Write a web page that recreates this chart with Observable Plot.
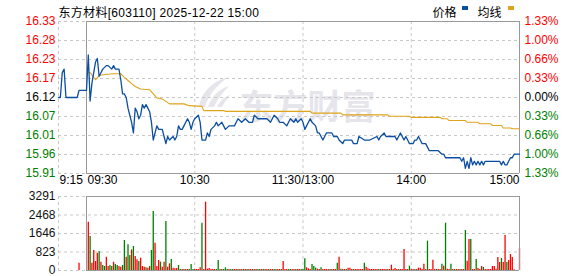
<!DOCTYPE html>
<html><head><meta charset="utf-8">
<script src="https://cdn.jsdelivr.net/npm/d3@7"></script>
<script src="https://cdn.jsdelivr.net/npm/@observablehq/plot@0.6"></script>
<style>
html,body{margin:0;padding:0;background:#fff;}
#chart{width:578px;height:276px;overflow:hidden;}
#chart svg{display:block;}
</style></head><body><div id="chart"></div>
<script>
// ---------- data ----------
const titleText = "东方材料[603110] 2025-12-22 15:00";
const legendNames = ["价格", "均线"];
const prevClose = 16.12;
const pctRange = 1.33;
const priceTickLabels = ["16.33","16.28","16.23","16.17","16.12","16.07","16.01","15.96","15.91"];
const pctTickLabels = ["1.33%","1.00%","0.66%","0.33%","0.00%","0.33%","0.66%","1.00%","1.33%"];
// trading minutes since 09:30 (lunch break collapsed); 9:15 = -15
const timeTicks = [-15, 0, 60, 120, 180, 240];
const timeTickLabels = ["9:15","09:30","10:30","11:30/13:00","14:00","15:00"];
const volTicks = [3291, 2468, 1646, 823, 0];

const pricePoints = [[-15,16.12],[-14,16.12],[-13,16.19],[-12,16.20],[-11,16.12],[-5,16.12],[-4,16.14],[0,16.14],
[1,16.24],[2,16.11],[3,16.16],[4,16.19],[5,16.22],[6,16.23],[7,16.18],[8,16.19],[9,16.20],[11,16.21],[12,16.21],
[14,16.20],[15,16.21],[16,16.20],[18,16.20],[19,16.17],[20,16.13],[21,16.13],[22,16.12],[23,16.09],[24,16.07],
[25,16.05],[26,16.02],[27,16.09],[28,16.08],[29,16.06],[30,16.07],[31,16.10],[32,16.09],[33,16.10],[34,16.09],
[35,16.08],[36,16.05],[37,16.00],[38,16.02],[39,16.04],[40,16.03],[41,16.03],[42,16.03],[43,16.01],[44,15.99],
[45,16.01],[46,16.00],[48,16.01],[49,16.00],[50,16.01],[51,16.04],[52,16.03],[53,16.03],[54,16.04],[55,16.05],
[56,16.06],[57,16.05],[58,16.03],[59,16.05],[60,16.06],[62,16.07],[63,16.05],[64,16.00],[66,16.00],[67,16.02],
[68,16.01],[69,16.03],[71,16.04],[72,16.05],[73,16.04],[75,16.05],[76,16.04],[77,16.03],[79,16.04],[81,16.04],
[82,16.04],[83,16.05],[84,16.06],[86,16.05],[88,16.06],[90,16.05],[92,16.05],[93,16.07],[95,16.06],[100,16.06],
[102,16.05],[103,16.06],[104,16.07],[106,16.06],[107,16.05],[109,16.05],[111,16.04],[112,16.05],[113,16.06],
[115,16.05],[116,16.06],[117,16.05],[119,16.06],[120,16.05],[121,16.03],[122,16.04],[123,16.05],[124,16.06],
[125,16.05],[127,16.04],[128,16.02],[129,16.02],[131,16.00],[132,16.01],[133,16.02],[134,16.02],[136,16.02],
[137,16.01],[139,16.01],[140,16.00],[142,15.99],[143,16.00],[145,16.00],[147,16.00],[148,15.99],[149,15.99],
[150,15.99],[151,16.01],[154,16.00],[157,16.00],[161,16.01],[162,16.00],[163,16.01],[165,16.02],[166,16.01],
[167,16.01],[168,16.01],[171,16.01],[172,16.00],[173,16.01],[174,16.02],[175,16.01],[176,16.00],[177,16.01],
[178,16.00],[179,15.99],[181,15.99],[182,16.00],[183,16.00],[184,16.01],[185,16.00],[186,15.99],[188,15.99],
[189,15.98],[190,15.97],[195,15.97],[197,15.96],[198,15.96],[199,15.95],[201,15.95],[203,15.95],[204,15.95],
[205,15.95],[207,15.95],[208,15.94],[209,15.95],[210,15.92],[211,15.94],[212,15.92],[213,15.95],[214,15.93],
[215,15.94],[216,15.93],[217,15.94],[218,15.93],[219,15.94],[220,15.93],[221,15.94],[222,15.94],[225,15.94],
[228,15.94],[229,15.94],[230,15.93],[231,15.94],[232,15.93],[233,15.93],[234,15.94],[235,15.95],[236,15.95],
[237,15.96],[240,15.96]];

const avgPoints = [[1,16.19],[2,16.19],[5,16.17],[7,16.182],[10,16.185],[15,16.187],[19,16.187],[21,16.177],
[23,16.168],[25,16.159],[27,16.151],[30,16.144],[35,16.142],[37,16.130],[39,16.119],[42,16.116],[44,16.109],
[46,16.102],[54,16.102],[57,16.097],[64,16.095],[65,16.083],[76,16.083],[77,16.081],[124,16.081],[125,16.076],
[141,16.076],[142,16.071],[167,16.071],[168,16.067],[179,16.067],[180,16.064],[196,16.064],[197,16.060],
[200,16.060],[201,16.055],[210,16.055],[211,16.050],[217,16.050],[218,16.046],[224,16.046],[225,16.041],
[230,16.041],[231,16.034],[235,16.034],[236,16.032],[240,16.032]];

// per-minute volume, minute 0..240
const volume = [
0,2149,1512,326,889,400,771,845,371,222,
178,593,178,222,178,371,267,222,178,148,
222,1334,593,1141,667,919,1067,622,474,400,
548,178,148,119,104,178,889,2623,1215,178,
445,371,148,371,2179,148,296,489,104,74,
89,222,44,44,44,44,44,44,267,44,
44,44,44,119,2104,44,3038,59,89,44,
44,44,44,445,44,44,44,119,44,44,
44,44,44,44,44,44,44,44,44,44,
44,44,44,44,44,44,44,44,44,44,
44,44,44,44,44,44,44,44,44,400,
44,44,44,44,44,44,44,44,44,44,
44,519,119,74,44,267,178,104,59,44,
119,44,44,44,44,44,44,44,44,326,
593,59,44,44,44,104,104,44,44,44,
44,44,44,44,326,148,74,44,44,44,
44,44,44,44,44,44,44,44,44,237,
44,89,44,44,44,44,934,44,44,193,
44,44,44,44,104,104,44,282,44,1304,
44,44,459,44,44,44,44,282,193,2104,
59,44,282,44,44,44,44,44,44,44,
1778,415,1378,1378,44,44,489,89,44,178,
133,44,44,44,44,178,178,59,578,356,
534,356,1556,356,445,711,578,30,0,0,
978];
// u = up (red), d = down (green)
const volDir =
"uuduuuudud"+"duuddudduu"+"ddudduduud"+"uuuduudduu"+"uduuduuduu"+
"udduduuddd"+"uuuuduuuuu"+"uudddudddu"+"dduuduudud"+"uuduuddudu"+
"uduudduudu"+"uudduuduud"+"dduuuddduu"+"duuuuduuud"+"uduuduuudu"+
"uuuuduuuuu"+"uuduuuuduu"+"uuuduuuuud"+"uuduuuuuud"+"uuuuduudud"+
"uududuuduu"+"duuduuduuu"+"duuuuuuuuu"+"duuduuuuuu"+"u";
const auctionMinute = -4, auctionVolume = 326, auctionDir = "u";

// ---------- style ----------
const RED = "#ff0000", GREEN = "#008000", BLUE = "#0b4ea2", GOLD = "#e0a31c";
const GRID = "#c8c8c8", FRAME = "#999999";
const FONT = "'Liberation Sans', Arial, 'Noto Sans CJK SC', sans-serif";
const W = 578;
const xScale = {type: "linear", domain: [-15, 0, 240], range: [58, 86, 519]};

const low = prevClose * (1 - pctRange / 100), high = prevClose * (1 + pctRange / 100);
const tickPrice = i => prevClose * (1 + pctRange / 100 * (4 - i) / 4);
const tickColor = i => i < 4 ? RED : i === 4 ? "#000000" : GREEN;
const idx = priceTickLabels.map((d, i) => i);
const inner = idx.filter(i => i > 0 && i < 8);

const priceData = pricePoints.map(([t, v]) => ({t, v}));
const avgData = avgPoints.map(([t, v]) => ({t, v}));
const volData = volume.map((v, i) => ({t: i, v, c: volDir[i] === "u" ? RED : GREEN})).filter(d => d.v > 0);
volData.unshift({t: auctionMinute, v: auctionVolume, c: auctionDir === "u" ? RED : GREEN});

const txt = {fontSize: 12, fontFamily: FONT};

const main = Plot.plot({
  width: W, height: 190,
  marginTop: 21, marginBottom: 17, marginLeft: 58, marginRight: 59,
  x: {...xScale, axis: null},
  y: {domain: [low, high], axis: null},
  color: {type: "identity"},
  style: {background: "transparent"},
  marks: [
    Plot.text(["东方财富"], {frameAnchor: "top-left", dx: 249, dy: 73, textAnchor: "middle",
      fill: "#e5e5eb", fontSize: 34, fontWeight: "bold", fontFamily: "'Noto Sans CJK SC', sans-serif"}),
    Plot.ruleY(inner, {y: i => tickPrice(i), x1: -15, x2: 240, stroke: GRID, strokeDasharray: "3,3"}),
    Plot.ruleY([0, 8], {y: i => tickPrice(i), x1: -15, x2: 0, stroke: GRID, strokeDasharray: "3,3"}),
    Plot.ruleX([-15, 60, 120, 180], {stroke: GRID, strokeDasharray: "3,3"}),
    Plot.ruleX([0, 240], {stroke: FRAME}),
    Plot.ruleY([0, 8], {y: i => tickPrice(i), x1: 0, x2: 240, stroke: FRAME}),
    Plot.line(avgData, {x: "t", y: "v", stroke: GOLD, strokeWidth: 1.1}),
    Plot.line(priceData, {x: "t", y: "v", stroke: BLUE, strokeWidth: 1.3}),
    Plot.text(idx, {y: i => tickPrice(i), text: i => priceTickLabels[i], frameAnchor: "left",
      textAnchor: "end", dx: -3, fill: i => tickColor(i), ...txt}),
    Plot.text(idx, {y: i => tickPrice(i), text: i => pctTickLabels[i], frameAnchor: "right",
      textAnchor: "start", dx: 5, fill: i => tickColor(i), ...txt}),
    Plot.text([0, 1], {x: i => timeTicks[i], text: i => timeTickLabels[i], frameAnchor: "bottom",
      dy: 10, dx: 1, textAnchor: "start", fill: "#000", ...txt}),
    Plot.text([2, 3, 4], {x: i => timeTicks[i], text: i => timeTickLabels[i], frameAnchor: "bottom",
      dy: 10, textAnchor: "middle", fill: "#000", ...txt}),
    Plot.text([5], {x: i => timeTicks[i], text: i => timeTickLabels[i], frameAnchor: "bottom",
      dy: 10, textAnchor: "end", fill: "#000", ...txt}),
    Plot.text([titleText], {frameAnchor: "top-left", dy: -13, textAnchor: "start", fill: "#000",
      className: "title-txt", ...txt}),
    Plot.text([legendNames[0]], {frameAnchor: "top-left", dx: 374, dy: -13, textAnchor: "start", fill: "#000", ...txt}),
    Plot.text([legendNames[1]], {frameAnchor: "top-left", dx: 419, dy: -13, textAnchor: "start", fill: "#000", ...txt})
  ]
});

const vol = Plot.plot({
  width: W, height: 86,
  marginTop: 6, marginBottom: 6, marginLeft: 58, marginRight: 59,
  x: {...xScale, axis: null},
  y: {domain: [0, volTicks[0]], axis: null},
  color: {type: "identity"},
  style: {background: "transparent"},
  marks: [
    Plot.ruleY(volTicks.slice(1, 4), {x1: -15, x2: 240, stroke: GRID, strokeDasharray: "3,3"}),
    Plot.ruleY([volTicks[0], volTicks[4]], {x1: -15, x2: 0, stroke: GRID, strokeDasharray: "3,3"}),
    Plot.ruleX([-15, 60, 120, 180], {stroke: GRID, strokeDasharray: "3,3"}),
    Plot.ruleX(volData, {x: "t", y1: 0, y2: "v", stroke: "c", strokeWidth: 1.3}),
    Plot.ruleX([0, 240], {stroke: FRAME}),
    Plot.ruleY([volTicks[0], volTicks[4]], {x1: 0, x2: 240, stroke: FRAME}),
    Plot.text(volTicks, {y: d => d, text: d => String(d), frameAnchor: "left", textAnchor: "end",
      dx: -3, fill: "#111", ...txt})
  ]
});

const host = document.getElementById("chart");
host.appendChild(main);
host.appendChild(vol);

// legend swatches, title spacing and watermark emblem
const svg = d3.select(main);
svg.selectAll(".title-txt text").attr("letter-spacing", "0.3px");
svg.append("rect").attr("x", 462).attr("y", 6).attr("width", 6).attr("height", 4).attr("fill", BLUE);
svg.append("rect").attr("x", 508).attr("y", 6).attr("width", 6).attr("height", 4).attr("fill", GOLD);
const emblem = svg.insert("g", ":first-child").attr("fill", "#e5e5eb");
emblem.append("path").attr("d", "M199,107 C201,93 211,82 228,77 C216,86 208,96 205,107 Z");
emblem.append("path").attr("d", "M208,107 C211,97 219,89 229,86 C222,93 217,100 214,107 Z");
emblem.append("path").attr("d", "M217,107 C220,101 224,97 230,95 C227,99 224,103 222,107 Z");
</script></body></html>
